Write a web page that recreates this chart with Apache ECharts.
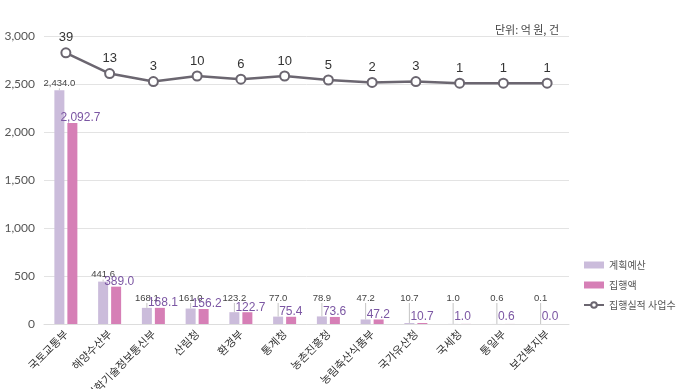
<!DOCTYPE html>
<html><head><meta charset="utf-8">
<script src="https://cdn.jsdelivr.net/npm/echarts@6/dist/echarts.min.js"></script>
<style>html,body{margin:0;padding:0;background:#fff}#c{width:678px;height:389px}</style>
</head><body><div id="c"></div>
<script>
const categories = ['국토교통부','해양수산부','과학기술정보통신부','산림청','환경부','통계청','농촌진흥청','농림축산식품부','국가유산청','국세청','통일부','보건복지부'];
const planned = [2434.0, 441.6, 168.1, 161.0, 123.2, 77.0, 78.9, 47.2, 10.7, 1.0, 0.6, 0.1];
const executed = [2092.7, 389.0, 168.1, 156.2, 122.7, 75.4, 73.6, 47.2, 10.7, 1.0, 0.6, 0.0];
const projects = [39, 13, 3, 10, 6, 10, 5, 2, 3, 1, 1, 1];
const yTicks = [0, 500, 1000, 1500, 2000, 2500, 3000];

const FONT = '"Noto Sans CJK KR", "Noto Sans", sans-serif';
const NARROW = '"Liberation Sans Narrow", "Liberation Sans", sans-serif';
const chart = echarts.init(document.getElementById('c'), null, {renderer:'canvas'});
const fmt1 = v => v.toLocaleString('en-US', {minimumFractionDigits:1, maximumFractionDigits:1});

chart.setOption({
  animation: false,
  textStyle: {fontFamily: FONT},
  title: {
    text: '단위: 억 원, 건', right: 114, top: 19,
    textStyle: {fontSize: 11, fontWeight: 'normal', color: '#444', fontFamily: FONT}
  },
  legend: {
    orient: 'vertical', left: 578, top: 255, itemGap: 10,
    itemWidth: 20, itemHeight: 7,
    textStyle: {fontSize: 10, color: '#555', fontFamily: FONT},
    data: [{name:'계획예산', icon:'rect'}, {name:'집행액', icon:'rect'}, {name:'집행실적 사업수'}]
  },
  grid: {left: 44, right: 109, top: 36, bottom: 65, containLabel: false, outerBoundsMode: 'none'},
  xAxis: {
    type: 'category', data: categories,
    axisLine: {lineStyle: {color: '#ddd'}},
    axisTick: {show: false},
    axisLabel: {rotate: 45, fontSize: 11, color: '#333', margin: 8, interval: 0, fontFamily: FONT}
  },
  yAxis: [{
    type: 'value', min: yTicks[0], max: yTicks[yTicks.length-1], interval: 500,
    axisLabel: {fontSize: 12, color: '#555', margin: 9, formatter: v => v.toLocaleString('en-US'), fontFamily: 'Lato, "Liberation Sans", sans-serif'},
    axisLine: {show: false}, axisTick: {show: false},
    splitLine: {lineStyle: {color: '#e3e3e3', width: 1}}
  }, {
    type: 'value', min: -300, max: 60, show: false, splitLine: {show: false}
  }],
  series: [{
    name: '계획예산', type: 'bar', data: planned, barWidth: 10, barGap: '30%',
    itemStyle: {color: '#cbbcdb'},
    label: {show: true, position: 'top', fontSize: 9.5, color: '#444', fontFamily: NARROW, formatter: p => fmt1(p.value)},
    labelLine: {show: true, lineStyle: {color: '#c4c4c4', width: 1}},
    labelLayout: p => ({
      x: p.rect.x + p.rect.width / 2,
      y: Math.min(p.rect.y - 7, 298),
      align: 'center', verticalAlign: 'middle'
    })
  }, {
    name: '집행액', type: 'bar', data: executed, barWidth: 10,
    itemStyle: {color: '#d67fb6'},
    label: {show: true, position: 'top', fontSize: 12, color: '#7b56a3', fontFamily: NARROW, formatter: p => fmt1(p.value)},
    labelLayout: p => ({
      x: p.rect.x - 7,
      y: Math.min(p.rect.y - 5, 317),
      align: 'left', verticalAlign: 'middle'
    })
  }, {
    name: '집행실적 사업수', type: 'line', yAxisIndex: 1, data: projects,
    symbol: 'emptyCircle', symbolSize: 9,
    lineStyle: {color: '#6b6670', width: 2.5},
    itemStyle: {color: '#6b6670', borderWidth: 2},
    label: {show: true, position: 'top', distance: 3, fontSize: 13, color: '#333', fontFamily: '"Liberation Sans", sans-serif'},
    z: 5
  }]
});
</script></body></html>
